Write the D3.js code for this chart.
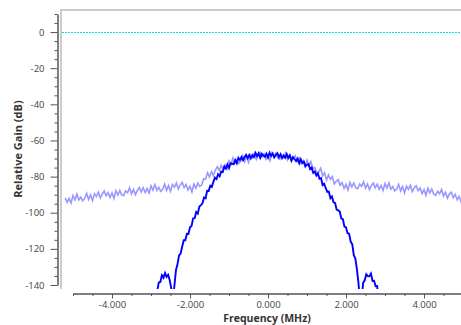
<!DOCTYPE html>
<html>
<head>
<meta charset="utf-8">
<script src="https://cdn.jsdelivr.net/npm/d3@7"></script>
<style>
  body { margin: 0; background: #fff; }
  svg { display: block; }
  .tick text { font-family: "Open Sans", sans-serif; font-size: 9.5px; fill: #444; }
  .tick line, .domain { stroke: #555; }
  .title { font-family: "Open Sans", sans-serif; font-size: 11px; font-weight: bold; fill: #333; }
</style>
</head>
<body>
<svg id="chart"></svg>
<script>
// FFT bin grids (MHz): first bin and bin spacing
const lightStart = -5.2, lightStep = 0.05;
const darkStart = -2.88, darkStep = 0.04;

// light trace (dB), one value per bin
const lightValues = [
  -91.8, -94.3, -92.1, -94.6, -90.5, -92.9, -89.7, -92.9, -91.3, -93.4,
  -92.1, -89.3, -92.7, -90.1, -93.3, -89.5, -91.0, -88.6, -91.8, -89.6,
  -88.0, -90.6, -88.8, -91.6, -89.1, -92.1, -87.8, -90.2, -87.7, -90.2,
  -90.5, -87.9, -88.9, -86.2, -89.6, -87.1, -90.0, -87.6, -86.0, -88.5,
  -86.2, -88.8, -86.6, -89.1, -85.1, -87.5, -84.4, -87.7, -86.0, -88.2,
  -87.0, -84.2, -87.6, -85.0, -88.2, -84.4, -85.9, -83.5, -86.8, -84.6,
  -83.2, -86.0, -84.4, -87.4, -85.3, -88.5, -84.2, -86.4, -83.6, -85.4,
  -84.7, -81.2, -81.4, -77.8, -80.3, -77.2, -79.5, -76.5, -74.5, -76.5,
  -73.8, -76.0, -73.4, -75.6, -71.2, -73.2, -69.7, -72.7, -70.8, -72.8,
  -71.4, -68.4, -71.7, -69.0, -72.1, -68.2, -69.6, -67.1, -70.4, -68.2,
  -66.7, -69.3, -67.5, -70.4, -68.0, -71.1, -66.9, -69.4, -67.2, -69.8,
  -70.4, -68.0, -69.4, -67.0, -70.7, -68.6, -71.8, -69.7, -68.5, -71.3,
  -69.6, -72.7, -71.1, -74.3, -71.0, -74.1, -71.7, -75.8, -75.0, -77.9,
  -77.4, -75.4, -79.6, -77.9, -82.0, -79.1, -81.5, -80.0, -84.1, -82.6,
  -81.7, -84.8, -83.4, -86.5, -84.3, -87.4, -83.2, -85.7, -83.5, -86.2,
  -86.7, -84.2, -85.4, -82.9, -86.4, -84.1, -87.2, -84.9, -83.6, -86.2,
  -84.2, -87.0, -84.9, -87.7, -83.9, -86.4, -83.5, -87.0, -85.5, -87.9,
  -86.9, -84.3, -87.9, -85.5, -88.9, -85.3, -87.0, -84.8, -88.3, -86.3,
  -85.1, -87.9, -86.3, -89.4, -87.2, -90.4, -86.4, -89.0, -86.9, -89.7,
  -90.4, -88.1, -89.5, -87.1, -90.8, -88.7, -91.9, -89.8, -88.7, -91.6,
  -89.8, -92.8, -91.0, -94.1, -90.5
];

// dark trace (dB), one value per bin
const darkValues = [
  -151.1, -143.2, -138.6, -138.3, -134.6, -136.0, -133.4, -135.5, -134.4, -137.3,
  -142.0, -149.3, -140.4, -131.8, -128.4, -123.6, -122.6, -118.7, -115.2, -115.2,
  -111.6, -111.7, -108.1, -107.3, -103.1, -103.0, -99.6, -100.5, -96.6, -95.8,
  -94.8, -91.5, -92.0, -87.8, -87.9, -85.1, -85.7, -82.9, -80.6, -81.4,
  -78.7, -79.8, -77.2, -77.5, -74.5, -75.6, -73.3, -75.3, -72.6, -72.9,
  -73.1, -70.9, -72.6, -69.6, -70.8, -69.2, -70.9, -69.2, -68.0, -69.8,
  -68.0, -69.9, -68.1, -69.2, -66.9, -68.7, -67.0, -69.6, -67.4, -68.3,
  -69.0, -67.3, -69.4, -66.8, -68.5, -67.2, -69.3, -68.0, -67.1, -69.2,
  -67.6, -69.8, -68.3, -69.6, -67.5, -69.6, -68.2, -71.0, -69.2, -70.4,
  -71.4, -70.1, -72.6, -70.4, -72.5, -71.7, -74.3, -73.5, -73.1, -75.8,
  -75.0, -77.9, -77.2, -79.4, -78.2, -81.2, -80.8, -84.7, -84.0, -86.3,
  -88.5, -88.3, -92.0, -91.0, -94.2, -94.6, -98.3, -98.7, -99.4, -103.2,
  -103.6, -107.7, -108.1, -111.3, -111.6, -116.0, -117.4, -123.5, -125.4, -131.3,
  -139.0, -149.3, -148.4, -138.8, -137.4, -134.1, -135.1, -135.2, -133.7, -137.7,
  -137.6, -140.7, -140.6, -150.8
];

const xMajor = [-4, -2, 0, 2, 4];
const yMajor = [0, -20, -40, -60, -80, -100, -120, -140];
const refLevel = 0;

const width = 461, height = 325;
const svg = d3.select('#chart').attr('width', width).attr('height', height);

const x = d3.scaleLinear().domain([-5, 5]).range([73, 463]);
const y = d3.scaleLinear().domain([-140, 10]).range([285, 14]);

// canvas area
const canvas = { x: 61, y: 10, w: 402, h: 279 };

svg.append('defs').append('clipPath').attr('id', 'clip')
  .append('rect')
  .attr('x', canvas.x).attr('y', canvas.y)
  .attr('width', canvas.w).attr('height', canvas.h);

// sunken frame, only top and left edges show
svg.append('path')
  .attr('d', `M${canvas.x},${canvas.y + canvas.h} V${canvas.y} H${width}`)
  .attr('fill', 'none')
  .attr('stroke', '#cbcbcb')
  .attr('stroke-width', 2);

const plot = svg.append('g').attr('clip-path', 'url(#clip)');

const refY = Math.round(y(refLevel)) + 0.5;
plot.append('line')
  .attr('x1', canvas.x + 1).attr('x2', width)
  .attr('y1', refY).attr('y2', refY)
  .attr('stroke', '#00e0ea')
  .attr('stroke-width', 1)
  .attr('stroke-dasharray', '2,1');

const line = d3.line()
  .x(d => x(d[0]))
  .y(d => y(d[1]));

const lightData = lightValues.map((v, i) => [lightStart + i * lightStep, v]);
const darkData = darkValues.map((v, i) => [darkStart + i * darkStep, v]);

plot.append('path')
  .datum(lightData)
  .attr('d', line)
  .attr('fill', 'none')
  .attr('stroke', 'rgba(50,50,255,0.5)')
  .attr('stroke-width', 1.6);

plot.append('path')
  .datum(darkData)
  .attr('d', line)
  .attr('fill', 'none')
  .attr('stroke', '#0000ff')
  .attr('stroke-width', 1.9);

// x axis
const xMinor = d3.range(-5, 5.01, 0.5).filter(v => !xMajor.includes(v));
svg.append('g')
  .attr('transform', 'translate(0,293.5)')
  .call(d3.axisBottom(x).tickValues(xMinor).tickSize(2.5).tickSizeOuter(0).tickFormat(''));
svg.append('g')
  .attr('transform', 'translate(0,293.5)')
  .call(d3.axisBottom(x).tickValues(xMajor).tickSize(5).tickSizeOuter(0).tickPadding(2.5)
    .tickFormat(d => d.toFixed(3)));

// y axis
const yMinor = d3.range(-140, 10.1, 5).filter(v => !yMajor.includes(v));
svg.append('g')
  .attr('transform', 'translate(57.5,0)')
  .call(d3.axisLeft(y).tickValues(yMinor).tickSize(3).tickSizeOuter(0).tickFormat(''));
svg.append('g')
  .attr('transform', 'translate(57.5,0)')
  .call(d3.axisLeft(y).tickValues(yMajor).tickSize(7).tickSizeOuter(0).tickPadding(6)
    .tickFormat(d => String(d)));

svg.append('text')
  .attr('class', 'title')
  .attr('text-anchor', 'middle')
  .attr('x', 267)
  .attr('y', 321.8)
  .style('font-size', '10.5px')
  .text('Frequency (MHz)');

svg.append('text')
  .attr('class', 'title')
  .attr('text-anchor', 'middle')
  .attr('transform', 'translate(22,149) rotate(-90)')
  .text('Relative Gain (dB)');
</script>
</body>
</html>
